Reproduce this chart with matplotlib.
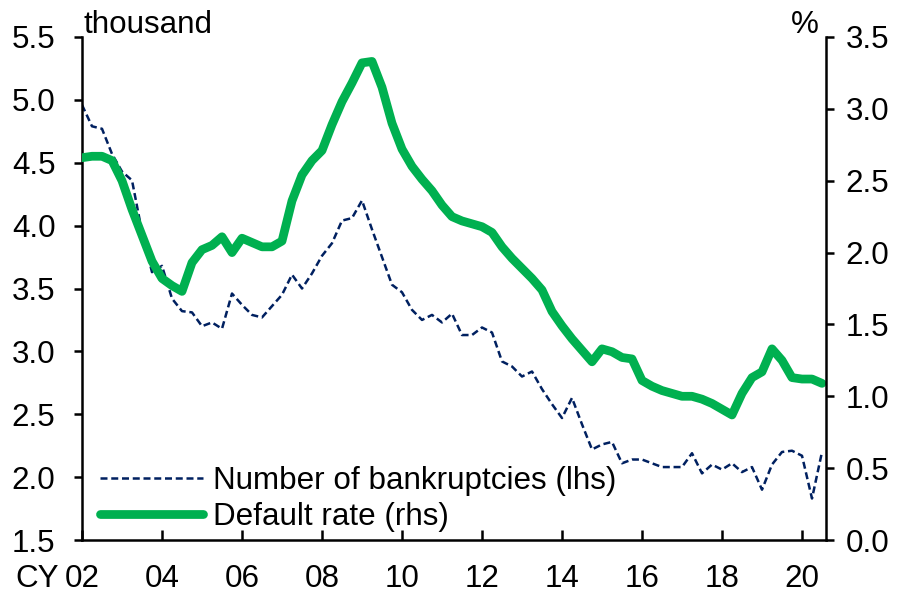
import matplotlib

matplotlib.use("Agg")
import matplotlib.pyplot as plt
import numpy as np

plt.rcParams["font.family"] = ["Liberation Sans", "DejaVu Sans"]

# quarterly, 2002Q1 .. 2020Q3
START_YEAR = 2002
bankruptcies = [
    4.96, 4.79, 4.77, 4.57, 4.43, 4.36, 3.95, 3.63, 3.68, 3.42,
    3.32, 3.31, 3.20, 3.23, 3.18, 3.46, 3.37, 3.29, 3.27, 3.36,
    3.45, 3.61, 3.50, 3.62, 3.76, 3.86, 4.04, 4.06, 4.20, 3.97,
    3.75, 3.53, 3.47, 3.33, 3.25, 3.29, 3.23, 3.30, 3.13, 3.13,
    3.19, 3.15, 2.92, 2.88, 2.80, 2.84, 2.70, 2.58, 2.47, 2.63,
    2.42, 2.22, 2.26, 2.28, 2.11, 2.14, 2.14, 2.11, 2.08, 2.08,
    2.08, 2.19, 2.03, 2.10, 2.06, 2.11, 2.04, 2.08, 1.90, 2.10,
    2.20, 2.21, 2.17, 1.83, 2.20,
]
default_rate = [
    2.66, 2.67, 2.67, 2.64, 2.50, 2.30, 2.12, 1.94, 1.82, 1.77,
    1.73, 1.93, 2.02, 2.05, 2.11, 2.00, 2.10, 2.07, 2.04, 2.04,
    2.08, 2.36, 2.54, 2.64, 2.71, 2.89, 3.05, 3.18, 3.32, 3.33,
    3.15, 2.90, 2.72, 2.60, 2.51, 2.43, 2.33, 2.25, 2.22, 2.20,
    2.18, 2.14, 2.04, 1.96, 1.89, 1.82, 1.74, 1.59, 1.49, 1.40,
    1.32, 1.24, 1.33, 1.31, 1.27, 1.26, 1.11, 1.07, 1.04, 1.02,
    1.00, 1.00, 0.98, 0.95, 0.91, 0.87, 1.02, 1.13, 1.17, 1.33,
    1.25, 1.13, 1.12, 1.12, 1.09,
]
year_ticks = list(range(2002, 2021, 2))
year_labels = ["02", "04", "06", "08", "10", "12", "14", "16", "18", "20"]

NAVY = "#002060"
GREEN = "#00b050"
FS = 22.6

t = START_YEAR + np.arange(len(bankruptcies)) / 4.0

fig = plt.figure(figsize=(9.01, 5.97), dpi=100)
ax = fig.add_axes([82 / 901, 57 / 597, 744 / 901, 503 / 597])
ax2 = ax.twinx()

ax.plot(t, bankruptcies, color=NAVY, linewidth=1.8, linestyle=(0, (2.8, 1.5)),
        label="Number of bankruptcies (lhs)")
ax2.plot(t, default_rate, color=GREEN, linewidth=6.3, solid_capstyle="round",
         solid_joinstyle="round", label="Default rate (rhs)")

ax.set_xlim(2002, 2020.6)
ax.set_ylim(1.5, 5.5)
ax2.set_ylim(0.0, 3.5)
ax.set_yticks(np.arange(1.5, 5.51, 0.5))
ax2.set_yticks(np.arange(0.0, 3.51, 0.5))
ax.yaxis.set_major_formatter(matplotlib.ticker.FormatStrFormatter("%.1f"))
ax2.yaxis.set_major_formatter(matplotlib.ticker.FormatStrFormatter("%.1f"))
ax.set_xticks(year_ticks)
ax.set_xticklabels(year_labels)

for a in (ax, ax2):
    a.spines["top"].set_visible(False)
    for s in ("left", "right", "bottom"):
        a.spines[s].set_linewidth(1.8)
ax.spines["right"].set_visible(False)
ax2.spines["left"].set_visible(False)
ax2.spines["bottom"].set_visible(False)

ax.tick_params(axis="y", direction="out", length=6, width=1.8, labelsize=FS, pad=13)
ax.tick_params(axis="x", direction="in", length=7, width=1.8, labelsize=FS, pad=17)
ax2.tick_params(axis="y", direction="out", length=6, width=1.8, labelsize=FS, pad=8)

ax.annotate("CY", xy=(2002, 0), xycoords=("data", "axes fraction"),
            xytext=(-17, -17), textcoords="offset points",
            ha="right", va="top", fontsize=FS)
ax.annotate("thousand", xy=(0, 1), xycoords="axes fraction",
            xytext=(1, 3), textcoords="offset points",
            ha="left", va="baseline", fontsize=FS)
ax.annotate("%", xy=(1, 1), xycoords="axes fraction",
            xytext=(-5, 3), textcoords="offset points",
            ha="right", va="baseline", fontsize=FS)

h1, l1 = ax.get_legend_handles_labels()
h2, l2 = ax2.get_legend_handles_labels()
ax2.legend(h1 + h2, l1 + l2, loc="lower left", bbox_to_anchor=(0.024, 0.016),
           frameon=False, fontsize=FS, borderpad=0, borderaxespad=0,
           handlelength=3.3, handletextpad=0.3, labelspacing=0.18)

fig.savefig("out.png", dpi=100)
